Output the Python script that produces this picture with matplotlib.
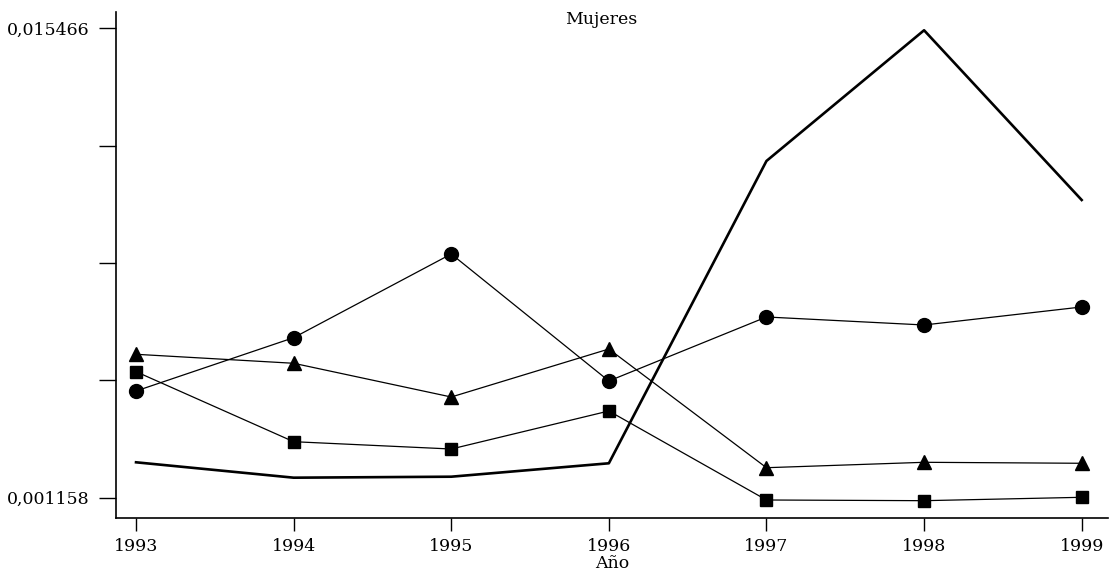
import matplotlib
matplotlib.use("Agg")
import matplotlib.pyplot as plt

# datos (Mujeres)
anios = [1993, 1994, 1995, 1996, 1997, 1998, 1999]
serie_gruesa = [0.002237, 0.001768, 0.001798, 0.002207, 0.011421, 0.015405, 0.010232]
serie_circulo = [0.004410, 0.006035, 0.008586, 0.004715, 0.006666, 0.006422, 0.006971]
serie_triangulo = [0.005529, 0.005255, 0.004227, 0.005690, 0.002072, 0.002237, 0.002207]
serie_cuadrado = [0.004999, 0.002865, 0.002642, 0.003801, 0.001088, 0.001067, 0.001170]

y_min, y_max = 0.001158, 0.015466
y_ticks = [y_min + i * (y_max - y_min) / 4 for i in range(5)]
y_labels = ["0,001158", "", "", "", "0,015466"]

plt.rcParams["font.family"] = ["DejaVu Serif"]

fig = plt.figure(figsize=(11.14, 5.8), dpi=100)
ax = fig.add_axes([115.7 / 1114, 1 - 518.3 / 580, (1108 - 115.7) / 1114, (518.3 - 11.7) / 580])

ax.plot(anios, serie_gruesa, color="black", lw=1.9)
ax.plot(anios, serie_circulo, color="black", lw=0.9, marker="o", ms=10)
ax.plot(anios, serie_triangulo, color="black", lw=0.9, marker="^", ms=10.5)
ax.plot(anios, serie_cuadrado, color="black", lw=0.9, marker="s", ms=9)

ax.set_xlim(1992.871, 1999.167)
ax.set_ylim(0.000530, 0.015971)
ax.set_xticks(anios)
ax.set_xticklabels([str(a) for a in anios], fontsize=12.5)
ax.set_yticks(y_ticks)
ax.set_yticklabels(y_labels, fontsize=12.5)
ax.tick_params(axis="y", length=12, width=1, pad=7)
ax.tick_params(axis="x", length=9, width=1, pad=5)

for s in ["top", "right"]:
    ax.spines[s].set_visible(False)
for s in ["left", "bottom"]:
    ax.spines[s].set_linewidth(1.2)

ax.set_xlabel("Año", fontsize=12.5, labelpad=0)
fig.text(601 / 1114, 1 - 20 / 580, "Mujeres", ha="center", va="center", fontsize=12.5)

fig.savefig("out.png", dpi=100)
